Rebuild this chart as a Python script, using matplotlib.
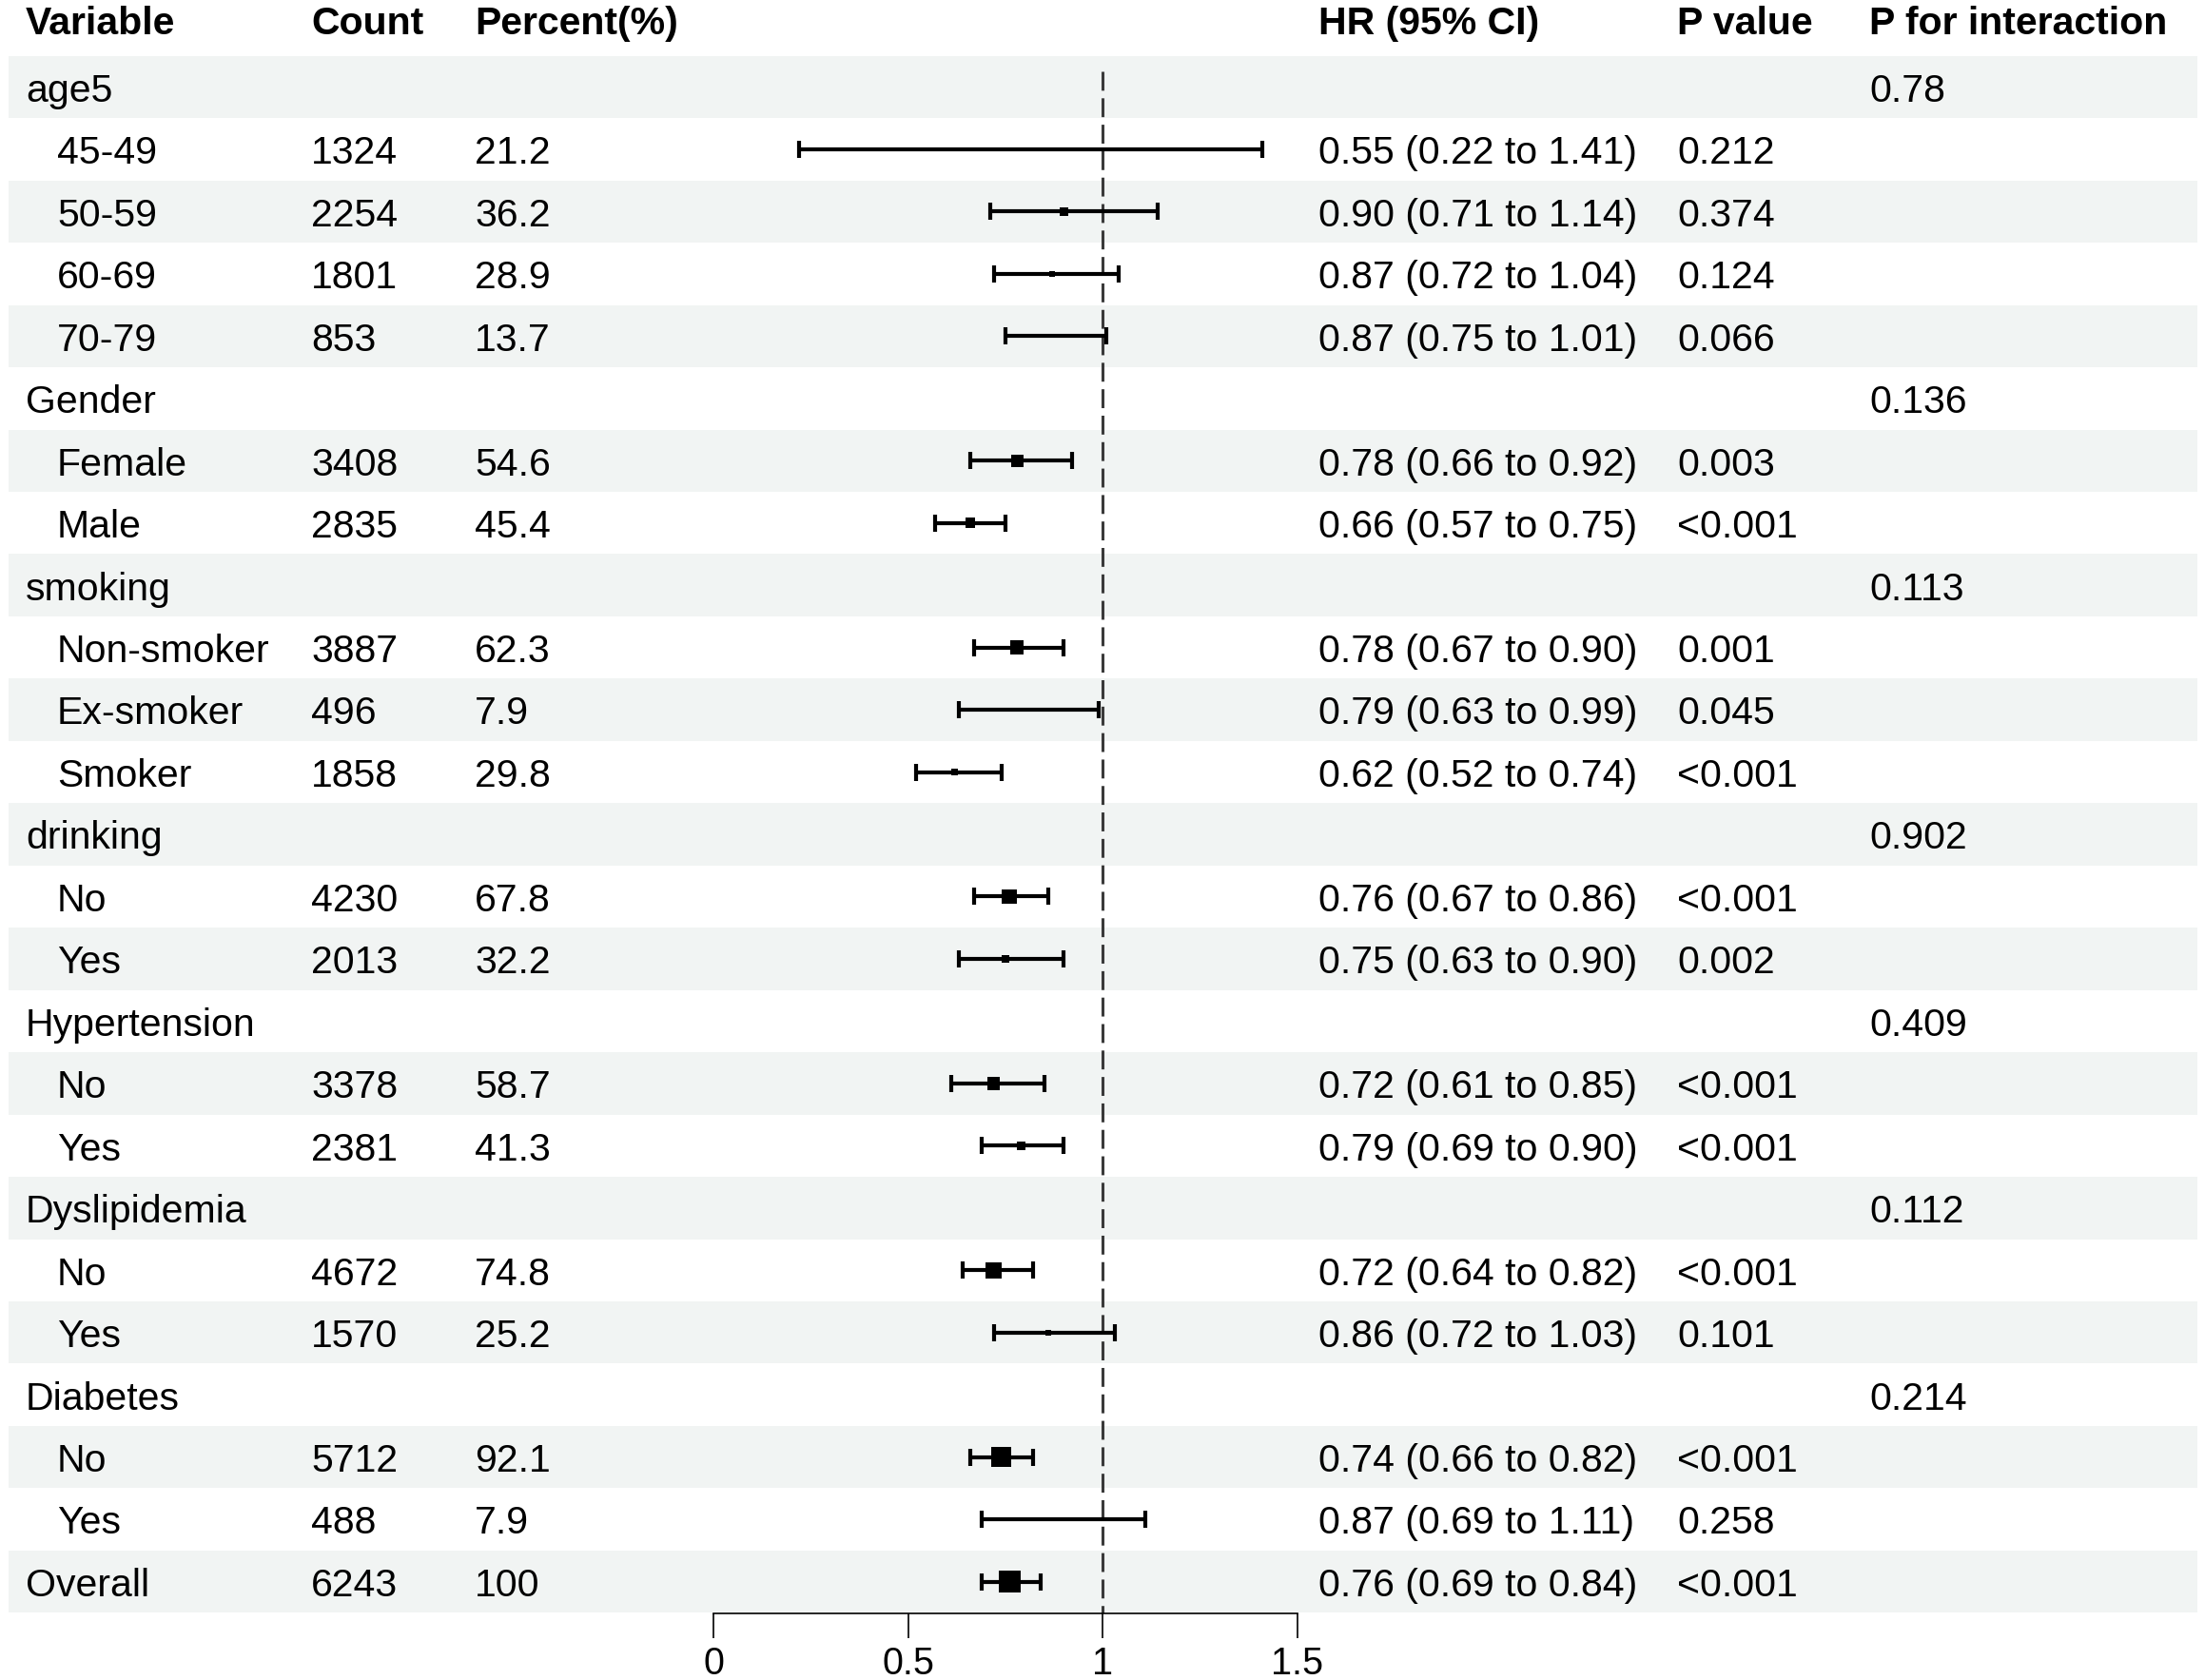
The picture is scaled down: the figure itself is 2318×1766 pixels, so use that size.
import numpy as np
import matplotlib
matplotlib.use("Agg")
import matplotlib.pyplot as plt

plt.rcParams['font.family'] = ['Liberation Sans', 'DejaVu Sans']

# ---------------- data ----------------
labels = ["age5", "45-49", "50-59", "60-69", "70-79",
          "Gender", "Female", "Male",
          "smoking", "Non-smoker", "Ex-smoker", "Smoker",
          "drinking", "No", "Yes",
          "Hypertension", "No", "Yes",
          "Dyslipidemia", "No", "Yes",
          "Diabetes", "No", "Yes",
          "Overall"]
indented = [False, True, True, True, True,
            False, True, True,
            False, True, True, True,
            False, True, True,
            False, True, True,
            False, True, True,
            False, True, True,
            False]
counts = ["", "1324", "2254", "1801", "853",
          "", "3408", "2835",
          "", "3887", "496", "1858",
          "", "4230", "2013",
          "", "3378", "2381",
          "", "4672", "1570",
          "", "5712", "488",
          "6243"]
percents = ["", "21.2", "36.2", "28.9", "13.7",
            "", "54.6", "45.4",
            "", "62.3", "7.9", "29.8",
            "", "67.8", "32.2",
            "", "58.7", "41.3",
            "", "74.8", "25.2",
            "", "92.1", "7.9",
            "100"]
nan = np.nan
hr = [nan, 0.55, 0.90, 0.87, 0.87,
      nan, 0.78, 0.66,
      nan, 0.78, 0.79, 0.62,
      nan, 0.76, 0.75,
      nan, 0.72, 0.79,
      nan, 0.72, 0.86,
      nan, 0.74, 0.87,
      0.76]
ci_low = [nan, 0.22, 0.71, 0.72, 0.75,
          nan, 0.66, 0.57,
          nan, 0.67, 0.63, 0.52,
          nan, 0.67, 0.63,
          nan, 0.61, 0.69,
          nan, 0.64, 0.72,
          nan, 0.66, 0.69,
          0.69]
ci_high = [nan, 1.41, 1.14, 1.04, 1.01,
           nan, 0.92, 0.75,
           nan, 0.90, 0.99, 0.74,
           nan, 0.86, 0.90,
           nan, 0.85, 0.90,
           nan, 0.82, 1.03,
           nan, 0.82, 1.11,
           0.84]
p_values = ["", "0.212", "0.374", "0.124", "0.066",
            "", "0.003", "<0.001",
            "", "0.001", "0.045", "<0.001",
            "", "<0.001", "0.002",
            "", "<0.001", "<0.001",
            "", "<0.001", "0.101",
            "", "<0.001", "0.258",
            "<0.001"]
p_interaction = ["0.78", "", "", "", "",
                 "0.136", "", "",
                 "0.113", "", "", "",
                 "0.902", "", "",
                 "0.409", "", "",
                 "0.112", "", "",
                 "0.214", "", "",
                 ""]
headers = ["Variable", "Count", "Percent(%)", "HR (95% CI)", "P value", "P for interaction"]
xticks = [0, 0.5, 1, 1.5]
xtick_labels = ["0", "0.5", "1", "1.5"]

# ---------------- layout ----------------
W, H = 2318, 1766
fig = plt.figure(figsize=(W / 100, H / 100), dpi=100)

row0_px = 91.5
row_px = 65.46
top_px = row0_px - 0.5 * row_px
axis_px = 1696
ybot = (axis_px - row0_px) / row_px
ax_bottom = 1 - axis_px / H
ax_height = (axis_px - top_px) / H

bg = fig.add_axes([0, ax_bottom, 1, ax_height])
bg.set_xlim(0, W)
bg.set_ylim(ybot, -0.5)
bg.axis('off')

ax = fig.add_axes([750 / W, ax_bottom, 614 / W, ax_height])
ax.set_xlim(0, 1.5)
ax.set_ylim(ybot, -0.5)
ax.patch.set_alpha(0)

n = len(labels)
rows = np.arange(n)
FS = 29.5
band_color = "#f1f4f3"
base_off = 0.235      # baseline offset below row centre (rows)
header_y = -0.85

shaded = rows[rows % 2 == 0]
bg.barh(shaded, width=2301, left=9, height=1.0, color=band_color, zorder=0)

col_x = [27, 327, 499, 1386, 1763, 1965]
for x, h in zip(col_x, headers):
    bg.text(x, header_y, h, fontsize=FS, fontweight='bold', va='baseline', ha='left')

hr_a = np.array(hr)
lo_a = np.array(ci_low)
hi_a = np.array(ci_high)

for i in range(n):
    y = i + base_off
    lx = 60 if indented[i] else 27
    bg.text(lx, y, labels[i], fontsize=FS, va='baseline', ha='left')
    bg.text(col_x[1], y, counts[i], fontsize=FS, va='baseline', ha='left')
    bg.text(col_x[2], y, percents[i], fontsize=FS, va='baseline', ha='left')
    if not np.isnan(hr_a[i]):
        bg.text(col_x[3], y, f"{hr_a[i]:.2f} ({lo_a[i]:.2f} to {hi_a[i]:.2f})",
                fontsize=FS, va='baseline', ha='left')
    bg.text(col_x[4], y, p_values[i], fontsize=FS, va='baseline', ha='left')
    bg.text(col_x[5], y, p_interaction[i], fontsize=FS, va='baseline', ha='left')

# forest
m = ~np.isnan(hr_a)
ax.errorbar(hr_a[m], rows[m], xerr=[hr_a[m] - lo_a[m], hi_a[m] - hr_a[m]],
            fmt='none', ecolor='black', elinewidth=3.0, capsize=6.8, capthick=3.0, zorder=3)
pct = np.array([float(p) if p else 0 for p in percents])
side_pt = 0.23 * pct * 0.72
ax.scatter(hr_a[m], rows[m], s=side_pt[m] ** 2, marker='s', color='black', linewidths=0, zorder=4)

ax.vlines(1, -0.25, ybot, colors='#3a3a3a', linestyles=(0, (6.5, 2.6)), linewidth=2.2, zorder=2)

for s in ['top', 'right', 'left']:
    ax.spines[s].set_visible(False)
ax.spines['bottom'].set_linewidth(1.2)
ax.set_yticks([])
ax.set_xticks(xticks)
ax.set_xticklabels(xtick_labels)
ax.tick_params(axis='x', direction='out', length=18.5, width=1.2, pad=6, labelsize=28.5)

fig.savefig("out.png", dpi=100)
